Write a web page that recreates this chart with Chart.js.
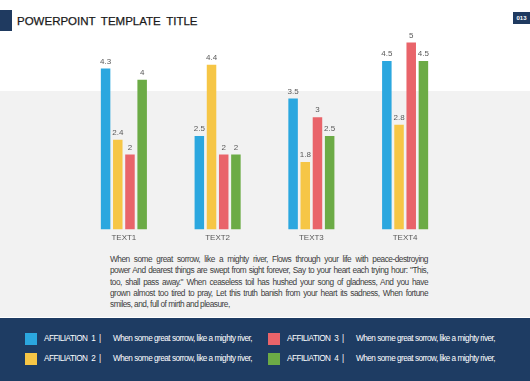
<!DOCTYPE html>
<html>
<head>
<meta charset="utf-8">
<script src="https://cdn.jsdelivr.net/npm/chart.js@4"></script>
<style>
    html, body { margin: 0; padding: 0; }
    body { width: 530px; height: 381px; position: relative; overflow: hidden; background: #fff; font-family: "Liberation Sans", Arial, sans-serif; }
    .band { position: absolute; left: 0; top: 91px; width: 530px; height: 226px; background: #f2f2f2; }
    .mark { position: absolute; left: 0; top: 10px; width: 12px; height: 21px; background: #1f3a60; }
    .title { position: absolute; left: 17px; top: 15px; font-size: 11.5px; line-height: 13px; color: #1a1a1a; word-spacing: 2.5px; -webkit-text-stroke: 0.25px #1a1a1a; }
    .page { position: absolute; left: 513px; top: 12px; width: 17px; height: 12px; background: #1f3a60; color: #fff; font-size: 6px; font-weight: bold; line-height: 12px; text-align: center; }
    #chart { position: absolute; left: 0; top: 0; }
    .para { position: absolute; left: 110px; top: 254px; width: 318px; font-size: 8.3px; line-height: 11.3px; color: #404040; letter-spacing: -0.5px; }
    .para span { display: block; white-space: nowrap; text-align: justify; text-align-last: justify; }
    .para span.last { text-align-last: left; }
    .footer { position: absolute; left: 0; top: 317px; width: 530px; height: 64px; background: #1e3c63; border-top: 1px solid #fff; }
    .item { position: absolute; height: 12px; font-size: 8.2px; color: #fff; line-height: 12px; letter-spacing: -0.5px; white-space: nowrap; }
    .item i { position: absolute; left: 0; top: 0; width: 12px; height: 12px; }
    .item b { position: absolute; left: 19px; font-weight: normal; word-spacing: 2px; }
    .item em { position: absolute; left: 88px; font-style: normal; }
</style>
</head>
<body>
<div class="band"></div>
<div class="mark"></div>
<div class="title">POWERPOINT TEMPLATE TITLE</div>
<div class="page">013</div>
<canvas id="chart" width="530" height="250"></canvas>
<div class="para">
    <span>When some great sorrow, like a mighty river, Flows through your life with peace-destroying</span>
    <span>power And dearest things are swept from sight forever, Say to your heart each trying hour: "This,</span>
    <span>too, shall pass away." When ceaseless toil has hushed your song of gladness, And you have</span>
    <span>grown almost too tired to pray, Let this truth banish from your heart its sadness, When fortune</span>
    <span class="last">smiles, and, full of mirth and pleasure,</span>
</div>
<div class="footer" id="legend"></div>

<script>
// Dữ liệu biểu đồ
const categories = ["TEXT1", "TEXT2", "TEXT3", "TEXT4"];
const seriesNames = ["AFFILIATION 1", "AFFILIATION 2", "AFFILIATION 3", "AFFILIATION 4"];
const affiliation1 = [4.3, 2.5, 3.5, 4.5];
const affiliation2 = [2.4, 4.4, 1.8, 2.8];
const affiliation3 = [2, 2, 3, 5];
const affiliation4 = [4, 2, 2.5, 4.5];
const seriesColors = ["#2ba7df", "#f6c646", "#e9646a", "#6cab46"];
const legendNote = "When some great sorrow, like a mighty river,";

const seriesValues = [affiliation1, affiliation2, affiliation3, affiliation4];

// Nhãn giá trị phía trên mỗi cột
const valueLabels = {
    id: "valueLabels",
    afterDatasetsDraw(chart) {
        const ctx = chart.ctx;
        ctx.save();
        ctx.font = "8px 'Liberation Sans', Arial, sans-serif";
        ctx.fillStyle = "#595959";
        ctx.textAlign = "center";
        ctx.textBaseline = "bottom";
        chart.data.datasets.forEach((ds, i) => {
            chart.getDatasetMeta(i).data.forEach((bar, j) => {
                ctx.fillText(String(ds.data[j]), bar.x, bar.y - 3);
            });
        });
        ctx.restore();
    }
};

const chart = new Chart(document.getElementById("chart"), {
    type: "bar",
    data: {
        labels: categories,
        datasets: seriesValues.map((vals, i) => ({
            label: seriesNames[i],
            data: vals,
            backgroundColor: seriesColors[i],
            borderWidth: 0,
            categoryPercentage: 0.52,
            barPercentage: 0.78
        }))
    },
    options: {
        responsive: false,
        animation: false,
        layout: { padding: { left: 77, right: 78, top: 5, bottom: 3 } },
        plugins: { legend: { display: false }, tooltip: { enabled: false } },
        scales: {
            x: {
                grid: { display: false, drawTicks: false },
                border: { display: false },
                ticks: { color: "#595959", padding: 4, font: { size: 8, family: "'Liberation Sans', Arial, sans-serif" } }
            },
            y: { display: false, min: 0, max: 6 }
        }
    },
    plugins: [valueLabels]
});

// Chú thích ở chân trang
const legendEl = document.getElementById("legend");
const spots = [[25, 15], [25, 35], [268, 15], [268, 35]];
seriesNames.forEach((name, i) => {
    const it = document.createElement("div");
    it.className = "item";
    it.style.left = spots[i][0] + "px";
    it.style.top = spots[i][1] + "px";
    it.innerHTML = '<i style="background:' + seriesColors[i] + '"></i><b>' + name + ' |</b><em>' + legendNote + '</em>';
    legendEl.appendChild(it);
});
</script>
</body>
</html>
